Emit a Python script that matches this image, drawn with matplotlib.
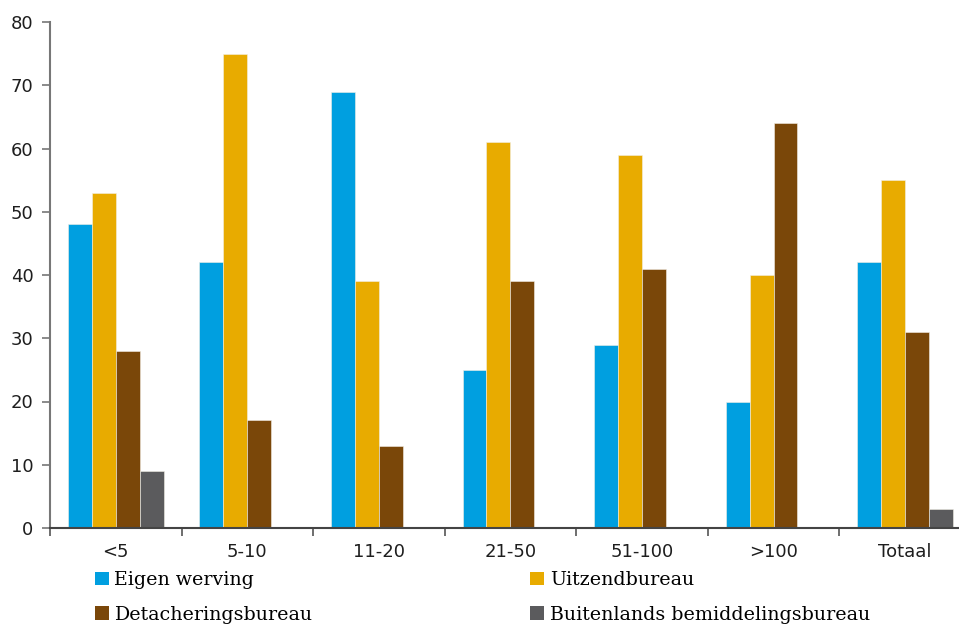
import numpy as np
import matplotlib
matplotlib.use("Agg")
import matplotlib.pyplot as plt
from matplotlib.patches import Patch
from matplotlib.ticker import FixedLocator

# Data
categories = ["<5", "5-10", "11-20", "21-50", "51-100", ">100", "Totaal"]
eigen_werving = [48, 42, 69, 25, 29, 20, 42]
uitzendbureau = [53, 75, 39, 61, 59, 40, 55]
detacheringsbureau = [28, 17, 13, 39, 41, 64, 31]
buitenlands = [9, 0, 0, 0, 0, 0, 3]

series = [
    ("Eigen werving", eigen_werving, "#009fe0"),
    ("Uitzendbureau", uitzendbureau, "#e8ab00"),
    ("Detacheringsbureau", detacheringsbureau, "#7a4709"),
    ("Buitenlands bemiddelingsbureau", buitenlands, "#5b5b5d"),
]

fig = plt.figure(figsize=(9.59, 6.25), dpi=100)
ax = fig.add_axes([50 / 959, 1 - 528 / 625, 909 / 959, 506 / 625])

x = np.arange(len(categories))
width = 0.182
for i, (name, vals, col) in enumerate(series):
    ax.bar(x + (i - 1.5) * width, vals, width, color=col,
           edgecolor="#f2efe6", linewidth=0.4, label=name)

ax.set_ylim(0, 80)
ax.set_yticks(range(0, 81, 10))
ax.set_xlim(-0.5, 6.41)
ax.set_xticks(x)
ax.set_xticklabels(categories)
ax.xaxis.set_minor_locator(FixedLocator(np.arange(-0.5, 6.5, 1.0)))
ax.tick_params(axis="x", which="major", length=0, pad=11)
ax.tick_params(axis="x", which="minor", length=6, width=1.2, color="#555555",
               direction="out")
ax.tick_params(axis="y", length=6, width=1.2, color="#777777", pad=6)
for lab in ax.get_xticklabels() + ax.get_yticklabels():
    lab.set_family("DejaVu Sans")
    lab.set_fontsize(13)
    lab.set_color("#1e1e1e")

for s in ["top", "right"]:
    ax.spines[s].set_visible(False)
ax.spines["left"].set_color("#777777")
ax.spines["left"].set_linewidth(1.5)
ax.spines["bottom"].set_color("#444444")
ax.spines["bottom"].set_linewidth(1.5)

# legend: column-first order
order = [0, 2, 1, 3]
handles = [Patch(facecolor=series[k][2], edgecolor="none") for k in order]
labels = [series[k][0] for k in order]
fig.legend(handles, labels, ncol=2, loc="upper left",
           bbox_to_anchor=(95 / 959, 1 - 571 / 625), frameon=False,
           prop={"family": "DejaVu Serif", "size": 13.7},
           handlelength=0.72, handleheight=0.72, handletextpad=0.3,
           columnspacing=11.45, labelspacing=0.87, borderpad=0, borderaxespad=0)

fig.savefig("out.png", dpi=100)
